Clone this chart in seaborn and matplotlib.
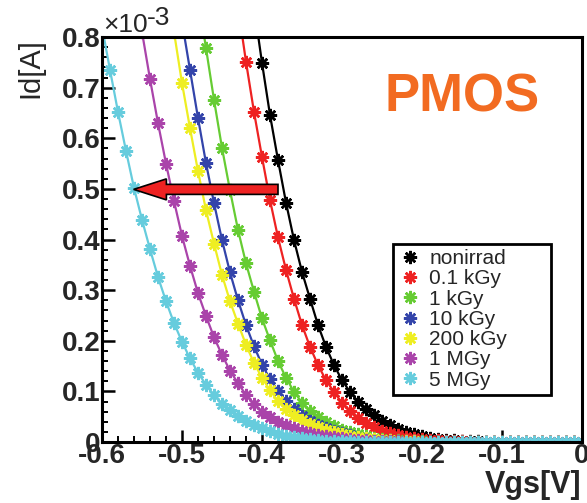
import matplotlib
matplotlib.use("Agg")
import matplotlib.pyplot as plt
from matplotlib.lines import Line2D
from matplotlib.ticker import MultipleLocator
import pandas as pd
import seaborn as sns

# gate voltage sweep (V), every series ends at 0 V
vgs = [-0.60, -0.59, -0.58, -0.57, -0.56, -0.55, -0.54, -0.53, -0.52, -0.51,
       -0.50, -0.49, -0.48, -0.47, -0.46, -0.45, -0.44, -0.43, -0.42, -0.41,
       -0.40, -0.39, -0.38, -0.37, -0.36, -0.35, -0.34, -0.33, -0.32, -0.31,
       -0.30, -0.29, -0.28, -0.27, -0.26, -0.25, -0.24, -0.23, -0.22, -0.21,
       -0.20, -0.19, -0.18, -0.17, -0.16, -0.15, -0.14, -0.13, -0.12, -0.11,
       -0.10, -0.09, -0.08, -0.07, -0.06, -0.05, -0.04, -0.03, -0.02, -0.01, 0.00]

# drain current in units of 1e-3 A
id_nonirrad = [0.86, 0.749, 0.646, 0.557, 0.473, 0.399, 0.336, 0.283, 0.231, 0.188,
               0.152, 0.122, 0.099, 0.080, 0.066, 0.053, 0.042, 0.033, 0.026, 0.020,
               0.015, 0.011, 0.008, 0.006, 0.004, 0.003, 0.002, 0.0015, 0.001, 0.0007,
               0.0005, 0.0003, 0.0002, 0.0001, 0.0001, 0.0001, 0.0, 0.0, 0.0, 0.0,
               0.0, 0.0]
id_01kgy = [0.86, 0.751, 0.652, 0.563, 0.478, 0.404, 0.340, 0.283, 0.231, 0.188,
            0.152, 0.122, 0.099, 0.077, 0.061, 0.048, 0.037, 0.029, 0.022, 0.017,
            0.013, 0.010, 0.007, 0.005, 0.004, 0.003, 0.002, 0.0015, 0.001, 0.0007,
            0.0005, 0.0003, 0.0002, 0.0001, 0.0001, 0.0001, 0.0, 0.0, 0.0, 0.0,
            0.0, 0.0, 0.0, 0.0]
id_1kgy = [0.88, 0.778, 0.676, 0.581, 0.497, 0.419, 0.353, 0.297, 0.244, 0.201,
           0.160, 0.127, 0.099, 0.078, 0.062, 0.049, 0.039, 0.031, 0.024, 0.019,
           0.015, 0.011, 0.008, 0.006, 0.0045, 0.0033, 0.0024, 0.0017, 0.0012, 0.0008,
           0.0005, 0.0003, 0.0002, 0.0001, 0.0001, 0.0001, 0.0, 0.0, 0.0, 0.0,
           0.0, 0.0, 0.0, 0.0, 0.0, 0.0, 0.0, 0.0, 0.0]
id_10kgy = [0.83, 0.735, 0.640, 0.551, 0.472, 0.399, 0.335, 0.280, 0.231, 0.189,
            0.153, 0.124, 0.101, 0.081, 0.065, 0.052, 0.042, 0.034, 0.027, 0.021,
            0.017, 0.013, 0.010, 0.008, 0.006, 0.0045, 0.0034, 0.0025, 0.0018, 0.0013,
            0.0009, 0.0006, 0.0004, 0.0003, 0.0002, 0.0001, 0.0001, 0.0001, 0.0, 0.0,
            0.0, 0.0, 0.0, 0.0, 0.0, 0.0, 0.0, 0.0, 0.0, 0.0, 0.0]
id_200kgy = [0.81, 0.709, 0.620, 0.535, 0.458, 0.392, 0.330, 0.278, 0.234, 0.192,
             0.156, 0.127, 0.102, 0.081, 0.065, 0.053, 0.044, 0.036, 0.030, 0.024,
             0.019, 0.015, 0.012, 0.009, 0.007, 0.005, 0.004, 0.003, 0.002, 0.0015,
             0.001, 0.0007, 0.0005, 0.0003, 0.0002, 0.0001, 0.0001, 0.0001, 0.0, 0.0,
             0.0, 0.0, 0.0, 0.0, 0.0, 0.0, 0.0, 0.0, 0.0, 0.0, 0.0, 0.0]
id_1mgy = [0.81, 0.717, 0.630, 0.550, 0.476, 0.407, 0.348, 0.294, 0.249, 0.207,
           0.172, 0.141, 0.116, 0.093, 0.075, 0.060, 0.049, 0.040, 0.033, 0.027,
           0.022, 0.018, 0.014, 0.011, 0.009, 0.007, 0.0055, 0.0043, 0.0033, 0.0025,
           0.0019, 0.0014, 0.001, 0.0007, 0.0005, 0.0003, 0.0002, 0.0001, 0.0001, 0.0001,
           0.0, 0.0, 0.0, 0.0, 0.0, 0.0, 0.0, 0.0, 0.0, 0.0, 0.0, 0.0, 0.0, 0.0, 0.0, 0.0]
id_5mgy = [0.82, 0.735, 0.652, 0.575, 0.502, 0.439, 0.381, 0.326, 0.278, 0.235,
           0.198, 0.165, 0.137, 0.113, 0.092, 0.076, 0.063, 0.052, 0.042, 0.034,
           0.027, 0.021, 0.016, 0.012, 0.009, 0.007, 0.005, 0.0037, 0.0027, 0.002,
           0.0014, 0.001, 0.0007, 0.0005, 0.0003, 0.0002, 0.0001, 0.0001, 0.0001, 0.0,
           0.0, 0.0, 0.0, 0.0, 0.0, 0.0, 0.0, 0.0, 0.0, 0.0, 0.0, 0.0, 0.0, 0.0, 0.0,
           0.0, 0.0, 0.0, 0.0, 0.0, 0.0]

doses = ["nonirrad", "0.1 kGy", "1 kGy", "10 kGy", "200 kGy", "1 MGy", "5 MGy"]
colors = ["#000000", "#ee2222", "#66cc33", "#3344aa", "#eeee22", "#aa44aa", "#66ccdd"]
series = [id_nonirrad, id_01kgy, id_1kgy, id_10kgy, id_200kgy, id_1mgy, id_5mgy]

xtick_labels = ["-0.6", "-0.5", "-0.4", "-0.3", "-0.2", "-0.1", "0"]
ytick_labels = ["0", "0.1", "0.2", "0.3", "0.4", "0.5", "0.6", "0.7", "0.8"]

rows = []
for dose, vals in zip(doses, series):
    for v, i in zip(vgs[-len(vals):], vals):
        rows.append((dose, v, i))
df = pd.DataFrame(rows, columns=["dose", "vgs", "id"])

sns.set_theme(style="ticks")
plt.rcParams["font.family"] = ["Liberation Sans", "DejaVu Sans"]
plt.rcParams["axes.unicode_minus"] = False

W, H = 587, 503
fig = plt.figure(figsize=(W / 100, H / 100), dpi=100)
ax = fig.add_axes([102 / W, 1 - 442 / H, 480 / W, 405 / H])

star = (8, 2, 0)
sns.lineplot(data=df, x="vgs", y="id", hue="dose", hue_order=doses,
             palette=colors, estimator=None, marker=star, markersize=9.5,
             markeredgewidth=1.8, linewidth=1.6, legend=False, ax=ax)
for line in ax.lines:
    line.set_markeredgecolor(line.get_color())

ax.set_xlim(-0.6, 0.0)
ax.set_ylim(0, 0.8)
ax.set_xticks([float(t) for t in xtick_labels])
ax.set_xticklabels(xtick_labels, fontsize=20, fontweight="bold")
ax.set_yticks([float(t) for t in ytick_labels])
ax.set_yticklabels(ytick_labels, fontsize=20, fontweight="bold")
ax.xaxis.set_minor_locator(MultipleLocator(0.02))
ax.yaxis.set_minor_locator(MultipleLocator(0.02))
ax.tick_params(which="both", direction="in", top=False, right=False, color="black")
ax.tick_params(which="major", length=9, width=1.8)
ax.tick_params(which="minor", length=4.5, width=1.4)
ax.tick_params(axis="x", pad=1)
ax.tick_params(axis="y", pad=1)
ax.set_xlabel("")
ax.set_ylabel("")
for sp in ax.spines.values():
    sp.set_visible(True)
    sp.set_linewidth(2.2)
    sp.set_color("black")

# red arrow marking the shift at Id = 0.5e-3 A
ax.arrow(-0.38, 0.499, -0.1805, 0, width=0.0198, head_width=0.0415,
         head_length=0.041, length_includes_head=True, fc="#ee2222",
         ec="black", lw=1.2, zorder=10)

fig.text(30 / W, 1 - 38 / H, "Id[A]", rotation=90, ha="center", va="top", fontsize=21)
fig.text(581 / W, 1 - 493 / H, "Vgs[V]", ha="right", va="baseline",
         fontsize=22, fontweight="bold")
fig.text(103 / W, 1 - 32 / H, "\u00d710", ha="left", va="baseline", fontsize=19)
fig.text(147 / W, 1 - 25 / H, "-3", ha="left", va="baseline", fontsize=19)
fig.text(462 / W, 1 - 112 / H, "PMOS", ha="center", va="baseline", fontsize=38,
         fontweight="bold", color="#f26b21")

handles = [Line2D([], [], ls="none", marker=star, ms=9.5, mew=1.8, color=c, mec=c)
           for c in colors]
leg = fig.legend(handles, doses, loc="upper left",
                 bbox_to_anchor=(393 / W, 1 - 244 / H, 158 / W, 0), mode="expand",
                 fontsize=15, frameon=True, fancybox=False, edgecolor="black",
                 framealpha=1, borderpad=0.25, labelspacing=0.06, handlelength=1.1,
                 handletextpad=0.4, borderaxespad=0)
leg.get_frame().set_linewidth(2)

fig.savefig("out.png", dpi=100, facecolor="white")
